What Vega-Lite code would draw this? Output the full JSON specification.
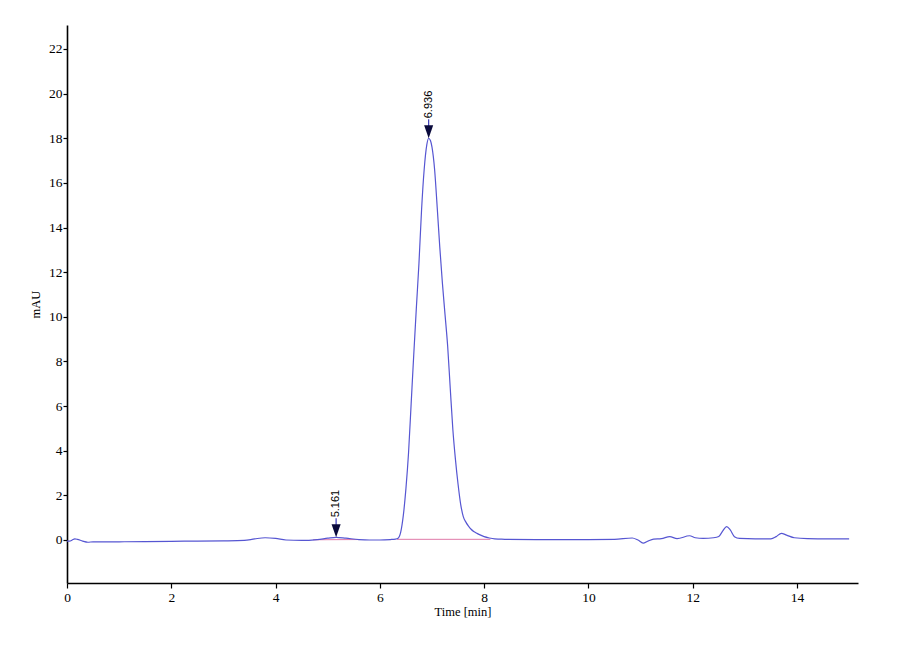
{
  "$schema": "https://vega.github.io/schema/vega-lite/v6.json",
  "description": "Chromatogram, mAU vs time",
  "width": 791,
  "height": 558,
  "autosize": {"type": "none"},
  "padding": {"left": 67, "top": 25, "right": 42, "bottom": 77},
  "background": "white",
  "config": {
    "view": {"stroke": null},
    "axis": {
      "grid": false,
      "domainColor": "#000000",
      "domainWidth": 1.6,
      "tickColor": "#000000",
      "tickWidth": 1.2,
      "tickSize": 5,
      "labelFont": "Liberation Serif",
      "labelFontSize": 13.5,
      "labelColor": "#000000",
      "labelFlush": false,
      "titleFont": "Liberation Serif",
      "titleFontSize": 12.5,
      "titleFontWeight": "normal",
      "titleColor": "#000000"
    }
  },
  "datasets": {
    "trace": [
      {"t": 0.0, "v": -0.05}, {"t": 0.05, "v": -0.05}, {"t": 0.1, "v": 0.0}, {"t": 0.15, "v": 0.05},
      {"t": 0.2, "v": 0.03}, {"t": 0.3, "v": -0.05}, {"t": 0.4, "v": -0.1}, {"t": 0.5, "v": -0.08},
      {"t": 0.7, "v": -0.08}, {"t": 1.0, "v": -0.08}, {"t": 1.5, "v": -0.07}, {"t": 2.0, "v": -0.06},
      {"t": 2.5, "v": -0.05}, {"t": 3.0, "v": -0.04}, {"t": 3.4, "v": -0.02}, {"t": 3.6, "v": 0.05},
      {"t": 3.8, "v": 0.1}, {"t": 4.0, "v": 0.07}, {"t": 4.2, "v": 0.0}, {"t": 4.5, "v": -0.02},
      {"t": 4.8, "v": 0.02}, {"t": 5.0, "v": 0.08}, {"t": 5.16, "v": 0.12}, {"t": 5.35, "v": 0.08},
      {"t": 5.6, "v": 0.02}, {"t": 5.8, "v": 0.0}, {"t": 6.0, "v": 0.0}, {"t": 6.2, "v": 0.02},
      {"t": 6.3, "v": 0.04}, {"t": 6.35, "v": 0.08}, {"t": 6.4, "v": 0.35}, {"t": 6.45, "v": 1.1},
      {"t": 6.5, "v": 2.3}, {"t": 6.55, "v": 3.9}, {"t": 6.6, "v": 6.1}, {"t": 6.65, "v": 8.3},
      {"t": 6.7, "v": 10.4}, {"t": 6.75, "v": 12.4}, {"t": 6.8, "v": 14.8}, {"t": 6.85, "v": 16.6},
      {"t": 6.9, "v": 17.7}, {"t": 6.936, "v": 18.0}, {"t": 6.97, "v": 17.9}, {"t": 7.0, "v": 17.6},
      {"t": 7.05, "v": 16.6}, {"t": 7.1, "v": 14.9}, {"t": 7.15, "v": 13.1}, {"t": 7.2, "v": 11.5},
      {"t": 7.25, "v": 10.1}, {"t": 7.3, "v": 8.7}, {"t": 7.35, "v": 6.8}, {"t": 7.4, "v": 4.95},
      {"t": 7.45, "v": 3.6}, {"t": 7.5, "v": 2.5}, {"t": 7.55, "v": 1.6}, {"t": 7.6, "v": 1.05},
      {"t": 7.65, "v": 0.8}, {"t": 7.7, "v": 0.62}, {"t": 7.75, "v": 0.48}, {"t": 7.8, "v": 0.38},
      {"t": 7.85, "v": 0.31}, {"t": 7.9, "v": 0.25}, {"t": 8.0, "v": 0.15}, {"t": 8.1, "v": 0.09},
      {"t": 8.2, "v": 0.05}, {"t": 8.3, "v": 0.04}, {"t": 8.4, "v": 0.03}, {"t": 9.0, "v": 0.02},
      {"t": 9.5, "v": 0.02}, {"t": 10.0, "v": 0.02}, {"t": 10.5, "v": 0.03}, {"t": 10.84, "v": 0.09},
      {"t": 10.95, "v": 0.0}, {"t": 11.06, "v": -0.14}, {"t": 11.15, "v": -0.04}, {"t": 11.25, "v": 0.04},
      {"t": 11.4, "v": 0.06}, {"t": 11.56, "v": 0.15}, {"t": 11.7, "v": 0.06}, {"t": 11.94, "v": 0.19},
      {"t": 12.05, "v": 0.1}, {"t": 12.2, "v": 0.07}, {"t": 12.4, "v": 0.1}, {"t": 12.5, "v": 0.16},
      {"t": 12.58, "v": 0.42}, {"t": 12.65, "v": 0.6}, {"t": 12.72, "v": 0.45}, {"t": 12.8, "v": 0.15},
      {"t": 12.9, "v": 0.07}, {"t": 13.2, "v": 0.05}, {"t": 13.5, "v": 0.05}, {"t": 13.6, "v": 0.15},
      {"t": 13.7, "v": 0.3}, {"t": 13.8, "v": 0.22}, {"t": 13.95, "v": 0.1}, {"t": 14.2, "v": 0.06},
      {"t": 14.6, "v": 0.05}, {"t": 15.0, "v": 0.05}
    ],
    "baseline": [
      {"seg": "a", "t": 4.72, "v": 0.01}, {"seg": "a", "t": 5.62, "v": 0.02},
      {"seg": "b", "t": 6.33, "v": 0.03}, {"seg": "b", "t": 8.12, "v": 0.03}
    ],
    "peaks": [
      {"t": 5.161, "v": 0.12, "label": "5.161"},
      {"t": 6.936, "v": 18.0, "label": "6.936"}
    ]
  },
  "encoding": {
    "x": {
      "field": "t",
      "type": "quantitative",
      "scale": {"domain": [0, 15.17], "nice": false, "zero": false},
      "axis": {"values": [0, 2, 4, 6, 8, 10, 12, 14], "title": "Time [min]", "labelPadding": 2, "titlePadding": 2}
    },
    "y": {
      "field": "v",
      "type": "quantitative",
      "scale": {"domain": [-1.927, 23.075], "nice": false, "zero": false},
      "axis": {"values": [0, 2, 4, 6, 8, 10, 12, 14, 16, 18, 20, 22], "title": "mAU", "tickSize": 4, "labelPadding": 1, "titlePadding": 6}
    }
  },
  "layer": [
    {
      "data": {"name": "baseline"},
      "mark": {"type": "line", "color": "#e07aa8", "strokeWidth": 1},
      "encoding": {"detail": {"field": "seg"}}
    },
    {
      "data": {"name": "trace"},
      "mark": {"type": "line", "color": "#5656d2", "strokeWidth": 1.2, "interpolate": "monotone"}
    },
    {
      "data": {"name": "peaks"},
      "mark": {"type": "rule", "color": "#3a3ab8", "strokeWidth": 1.2, "yOffset": -12, "y2Offset": -19},
      "encoding": {"y2": {"field": "v"}}
    },
    {
      "data": {"name": "peaks"},
      "mark": {"type": "point", "shape": "M-0.7,-1L0.7,-1L0,1Z", "size": 169, "filled": true, "color": "#0a0a3c", "opacity": 1, "yOffset": -6.5}
    },
    {
      "data": {"name": "peaks"},
      "mark": {"type": "text", "angle": 270, "align": "left", "baseline": "middle", "font": "Liberation Sans", "fontSize": 11, "color": "#000000", "yOffset": -20},
      "encoding": {"text": {"field": "label"}}
    }
  ]
}
